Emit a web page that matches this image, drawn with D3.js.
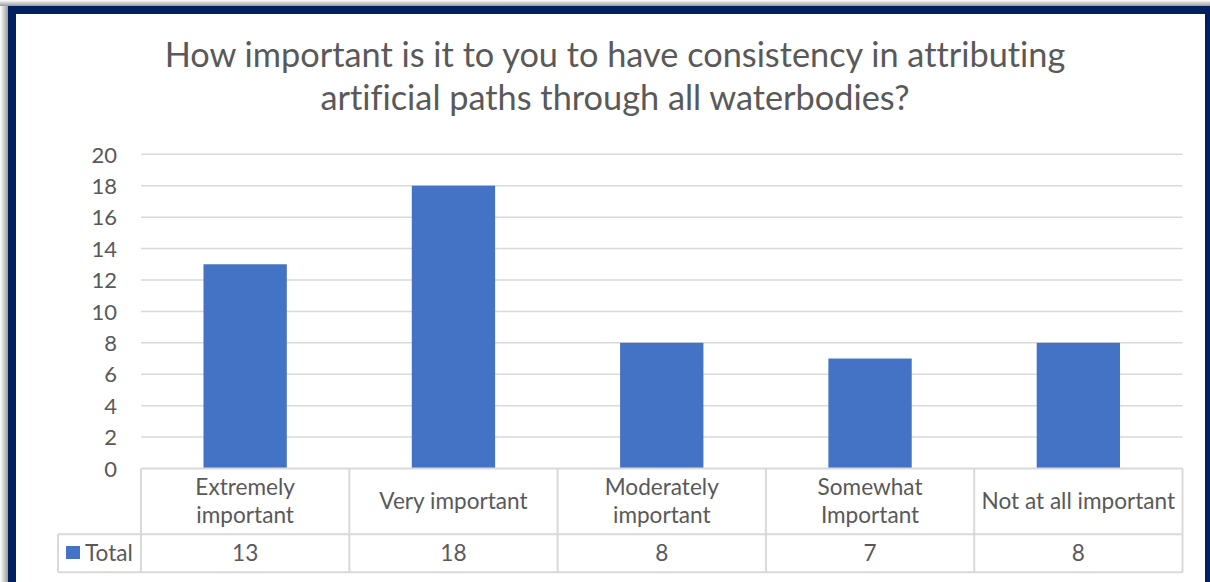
<!DOCTYPE html>
<html><head><meta charset="utf-8">
<script src="https://cdn.jsdelivr.net/npm/d3@7"></script>
<style>html,body{margin:0;padding:0;background:#fff;overflow:hidden} text{font-variant-ligatures:none;font-feature-settings:"liga" 0}</style>
</head><body>
<svg id="c" width="1210" height="582"></svg>
<script>
const titleLines = ["How important is it to you to have consistency in attributing", "artificial paths through all waterbodies?"];
const categories = ["Extremely important", "Very important", "Moderately important", "Somewhat Important", "Not at all important"];
const categoryLines = [["Extremely", "important"], ["Very important"], ["Moderately", "important"], ["Somewhat", "Important"], ["Not at all important"]];
const seriesName = "Total";
const values = [13, 18, 8, 7, 8];
const yTicks = [0, 2, 4, 6, 8, 10, 12, 14, 16, 18, 20];

(function(){
const svg = d3.select("#c");
const FONT = "Lato, 'Open Sans', sans-serif";
const TXT = "#595959", GRID = "#d9d9d9", BAR = "#4472C4", NAVY = "#002060";

// frame with shadow
const defs = svg.append("defs");
const gl = defs.append("linearGradient").attr("id","gL").attr("x1",0).attr("x2",1).attr("y1",0).attr("y2",0);
gl.append("stop").attr("offset",0).attr("stop-color","#ffffff");
gl.append("stop").attr("offset",1).attr("stop-color","#9a9a9a");
const gt = defs.append("linearGradient").attr("id","gT").attr("x1",0).attr("x2",0).attr("y1",0).attr("y2",1);
gt.append("stop").attr("offset",0).attr("stop-color","#ffffff");
gt.append("stop").attr("offset",1).attr("stop-color","#9a9a9a");
svg.append("rect").attr("x",0).attr("y",0).attr("width",8).attr("height",582).attr("fill","url(#gL)");
svg.append("rect").attr("x",0).attr("y",0).attr("width",1210).attr("height",6).attr("fill","url(#gT)");
svg.append("rect").attr("x",12).attr("y",10).attr("width",1197).attr("height",580)
  .attr("fill","#fff").attr("stroke",NAVY).attr("stroke-width",8);

// title
svg.append("g").selectAll("text").data(titleLines).join("text")
  .attr("x",615).attr("y",(d,i)=>67+i*43)
  .attr("text-anchor","middle").attr("font-family",FONT).attr("font-size",34.3)
  .attr("fill",TXT).text(d=>d);

const pL = 141, pR = 1182.5, pT = 154.3, pB = 468.5;
const x = d3.scaleBand().domain(categories).range([pL,pR]).paddingInner(0.6).paddingOuter(0.3);
const y = d3.scaleLinear().domain([0,20]).range([pB,pT]);

// gridlines
svg.append("g").selectAll("line").data(yTicks.filter(t=>t>0)).join("line")
  .attr("x1",pL).attr("x2",pR).attr("y1",d=>y(d)).attr("y2",d=>y(d))
  .attr("stroke",GRID).attr("stroke-width",1.5);

// y axis labels
const yAxis = d3.axisLeft(y).tickValues(yTicks).tickSize(0).tickPadding(0);
const ya = svg.append("g").attr("transform",`translate(117,0)`).call(yAxis);
ya.select(".domain").remove();
ya.selectAll("text").attr("font-family",FONT).attr("font-size",22).attr("fill",TXT).attr("dy","0.35em");

// bars
svg.append("g").selectAll("rect").data(values).join("rect")
  .attr("x",(d,i)=>x(categories[i])).attr("width",x.bandwidth())
  .attr("y",d=>y(d)).attr("height",d=>y(0)-y(d))
  .attr("fill",BAR);

// data table
const step = x.step();
const r1 = pB, r2 = 534.3, r3 = 572.3, legL = 58;
const tg = svg.append("g").attr("stroke",GRID).attr("stroke-width",2).attr("fill","none");
tg.append("line").attr("x1",pL).attr("x2",pR).attr("y1",r1).attr("y2",r1);
tg.append("line").attr("x1",legL).attr("x2",pR).attr("y1",r2).attr("y2",r2);
tg.append("line").attr("x1",legL).attr("x2",pR).attr("y1",r3).attr("y2",r3);
tg.append("line").attr("x1",legL).attr("x2",legL).attr("y1",r2).attr("y2",r3);
const colEdges = d3.range(categories.length+1).map(i=>pL+i*step);
tg.selectAll("line.v").data(colEdges).join("line").attr("class","v")
  .attr("x1",d=>d).attr("x2",d=>d).attr("y1",r1).attr("y2",r3);

// category labels
const cg = svg.append("g").attr("font-family",FONT).attr("font-size",22.6).attr("fill",TXT).attr("text-anchor","middle");
categoryLines.forEach((lines,i)=>{
  const cx = x(categories[i]) + x.bandwidth()/2;
  const mid = (r1+r2)/2;
  const lh = 28;
  lines.forEach((ln,j)=>{
    cg.append("text").attr("x",cx).attr("y",mid + (j-(lines.length-1)/2)*lh).attr("dy","0.35em").text(ln);
  });
});
// values
cg.selectAll("text.v").data(values).join("text").attr("class","v")
  .attr("x",(d,i)=>x(categories[i])+x.bandwidth()/2).attr("y",(r2+r3)/2).attr("dy","0.35em").text(d=>d);

// legend key
svg.append("rect").attr("x",66).attr("y",546).attr("width",14).attr("height",13).attr("fill",BAR);
svg.append("text").attr("x",85).attr("y",(r2+r3)/2).attr("dy","0.35em")
  .attr("font-family",FONT).attr("font-size",22.6).attr("fill",TXT).text(seriesName);
})();
</script>
</body></html>
